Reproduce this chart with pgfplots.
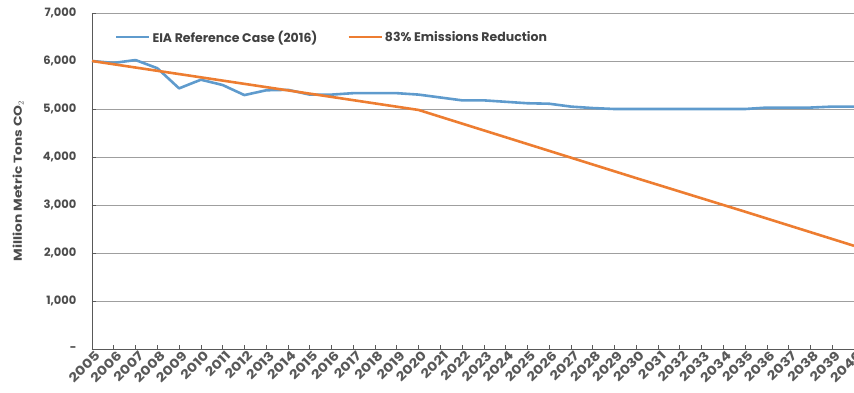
\documentclass[border=0pt]{standalone}
\usepackage{pgfplots}
\pgfplotsset{compat=1.18}
\usepackage{fontspec}
\setmainfont{Poppins}
\newfontfamily\widefont{Poppins}[FakeStretch=1.2]
\definecolor{eiablue}{RGB}{95,155,205}
\definecolor{cutorange}{RGB}{237,125,49}
\begin{document}
\begin{tikzpicture}[x=1pt,y=1pt]
\begin{axis}[
    at={(0,0)}, anchor=south west,
    scale only axis,
    width=762pt, height=336pt,
    xmin=2005, xmax=2040,
    ymin=0, ymax=7000,
    axis x line*=bottom,
    axis y line*=left,
    axis line style={gray!70!black, line width=0.6pt},
    xtick={2005,...,2040},
    xticklabel style={rotate=45, anchor=east, font=\widefont\fontsize{12.5}{13}\selectfont\bfseries,
        text=black!65, inner sep=1pt, xshift=2pt, yshift=-7pt,
        /pgf/number format/1000 sep={}, /pgf/number format/assume math mode=true},
    ytick={0,1000,...,7000},
    yticklabels={-,{1,000},{2,000},{3,000},{4,000},{5,000},{6,000},{7,000}},
    yticklabel style={font=\fontsize{11.5}{12}\selectfont\bfseries, text=black!70, xshift=-12pt},
    major tick length=4pt,
    tick style={gray!70!black, line width=0.6pt},
    ymajorgrids=true,
    grid style={gray!75, line width=0.8pt},
    ylabel={Million Metric Tons CO$_2$},
    every axis y label/.style={at={(axis description cs:-0.097,0.5)}, rotate=90, anchor=center,
        font=\widefont\fontsize{11.5}{12}\selectfont\bfseries, text=black!70},
    legend style={at={(0.026,0.928)}, anchor=west, draw=none, fill=none,
        font=\fontsize{12.5}{13}\selectfont\bfseries, text=black!75,
        legend columns=2, /tikz/every even column/.append style={column sep=28pt}},
    legend image code/.code={\draw[#1, line width=2.5pt] (0pt,0pt) -- (33pt,0pt);},
    clip=false,
]
\addplot[color=eiablue, line width=2.6pt, line join=round] coordinates {
    (2005,6000)(2006,5960)(2007,6020)(2008,5850)(2009,5430)(2010,5610)
    (2011,5500)(2012,5290)(2013,5390)(2014,5400)(2015,5300)(2016,5300)
    (2017,5330)(2018,5330)(2019,5330)(2020,5300)(2021,5240)(2022,5180)
    (2023,5180)(2024,5150)(2025,5120)(2026,5110)(2027,5050)(2028,5020)
    (2029,5000)(2030,5000)(2031,5000)(2032,5000)(2033,5000)(2034,5000)
    (2035,5000)(2036,5030)(2037,5030)(2038,5030)(2039,5050)(2040,5050)
};
\addlegendentry{EIA Reference Case (2016)}
\addplot[color=cutorange, line width=2.6pt, line join=round] coordinates {
    (2005,6000)(2010,5660)(2015,5320)(2020,4980)(2025,4270)(2030,3560)(2035,2860)(2040,2150)
};
\addlegendentry{83\% Emissions Reduction}
\end{axis}
\pgfresetboundingbox
\path[use as bounding box] (-92pt,-43pt) rectangle (762pt,349pt);
\end{tikzpicture}
\end{document}
